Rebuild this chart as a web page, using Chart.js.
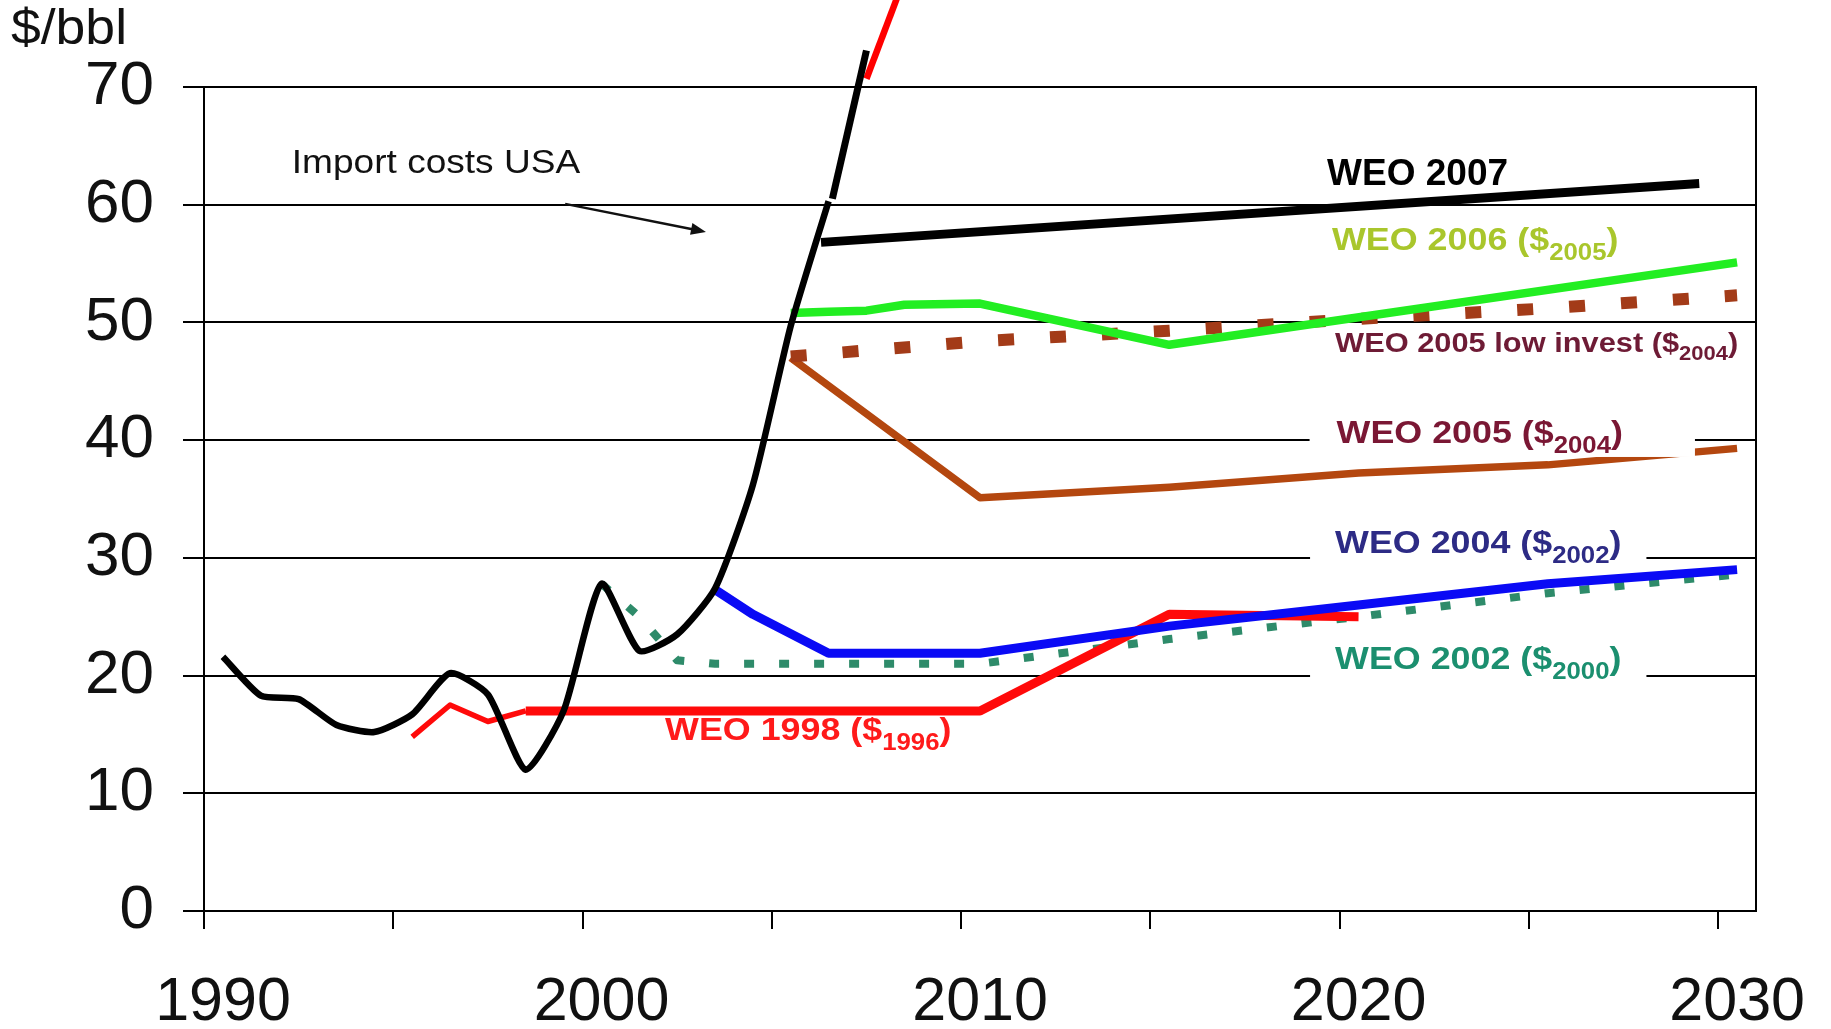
<!DOCTYPE html>
<html>
<head>
<meta charset="utf-8">
<script src="https://cdn.jsdelivr.net/npm/chart.js@4.4.1/dist/chart.umd.min.js"></script>
<style>
  html, body { margin: 0; padding: 0; background: #fff; }
  canvas { display: block; }
</style>
</head>
<body>
<canvas id="c" width="1831" height="1029"></canvas>
<script>
// ---------- data ----------
const yTicks = [0, 10, 20, 30, 40, 50, 60, 70];
const xTickLabels = ['1990', '2000', '2010', '2020', '2030'];
const xTickYears = [1990, 1995, 2000, 2005, 2010, 2015, 2020, 2025, 2030];

const importYears = [1990, 1991, 1992, 1993, 1994, 1995, 1996, 1997, 1998, 1999, 2000, 2001, 2002, 2003, 2004, 2005, 2006];
const importCosts = [21.6, 18.3, 18.0, 15.8, 15.2, 16.7, 20.2, 18.4, 12.0, 17.0, 27.8, 22.1, 23.5, 27.4, 36.2, 49.7, 60.3];

const import2007Years = [2006.1, 2007.0];
const import2007Costs = [60.5, 73.1];

const recentYears = [2007.0, 2008.0];
const recentCosts = [70.7, 79.2];

const weo2007Years = [2005.8, 2029.0];
const weo2007 = [56.8, 61.8];

const weo2006Years = [2005, 2006, 2007, 2008, 2010, 2015, 2030];
const weo2006 = [50.8, 50.9, 51.0, 51.5, 51.6, 48.1, 55.1];

const weo2005LowYears = [2005, 2010, 2015, 2020, 2025, 2030];
const weo2005Low = [47.1, 48.4, 49.3, 50.3, 51.2, 52.3];

const weo2005Years = [2005, 2010, 2015, 2020, 2025, 2030];
const weo2005 = [47.0, 35.1, 36.0, 37.2, 37.9, 39.3];

const weo2004Years = [2003, 2004, 2006, 2010, 2015, 2020, 2025, 2030];
const weo2004 = [27.3, 25.2, 21.9, 21.9, 24.2, 26.0, 27.8, 29.0];

const weo2002Years = [2000, 2001, 2002, 2003, 2010, 2015, 2020, 2025, 2030];
const weo2002 = [27.8, 25.0, 21.3, 21.0, 21.0, 23.1, 25.0, 27.0, 28.6];

const weo1998Years = [1995, 1996, 1997, 1998, 2010, 2015, 2020];
const weo1998 = [14.8, 17.5, 16.1, 17.0, 17.0, 25.2, 25.0];

// ---------- helpers ----------
const zip = (xs, ys) => xs.map((x, i) => ({ x: x, y: ys[i] }));
const FAM = '"Liberation Sans", Arial, Helvetica, sans-serif';

// text annotations (anchor in chart units)
const notes = [
  { text: 'Import costs USA', at: [1991.82, 62.7], size: 34, weight: 'normal', color: '#111', stretch: 1.09 },
  { text: 'WEO 2007', at: [2019.17, 61.68], size: 37, weight: 'bold', color: '#000', stretch: 1.0 },
  { text: 'WEO 2006 ($', sub: '2005', close: ')', at: [2019.3, 56.16], size: 32, weight: 'bold', color: '#a9c62c', stretch: 1.12 },
  { text: 'WEO 2005 low invest ($', sub: '2004', close: ')', at: [2019.38, 47.5], size: 28, weight: 'bold', color: '#6e1b35', stretch: 1.1 },
  { text: 'WEO 2005 ($', sub: '2004', close: ')', at: [2019.42, 39.76], size: 32, weight: 'bold', color: '#7a1734', stretch: 1.12, box: [27, 33, 72, 14] },
  { text: 'WEO 2004 ($', sub: '2002', close: ')', at: [2019.38, 30.4], size: 32, weight: 'bold', color: '#2d2b85', stretch: 1.12, box: [25, 33, 25, 15] },
  { text: 'WEO 2002 ($', sub: '2000', close: ')', at: [2019.38, 20.6], size: 32, weight: 'bold', color: '#1b8f6f', stretch: 1.12, box: [25, 33, 25, 15] },
  { text: 'WEO 1998 ($', sub: '1996', close: ')', at: [2001.68, 14.5], size: 32, weight: 'bold', color: '#ff1a1a', stretch: 1.12 }
];
const arrowFrom = [1999.04, 60.07];
const arrowTo = [2002.76, 57.69];

const bgPlugin = {
  id: 'bg',
  beforeDraw(chart) {
    const ctx = chart.ctx;
    ctx.save();
    ctx.fillStyle = '#fff';
    ctx.fillRect(0, 0, chart.width, chart.height);
    ctx.restore();
  },
  beforeDatasetsDraw(chart) {
    const { ctx, chartArea } = chart;
    ctx.save();
    ctx.strokeStyle = '#000';
    ctx.lineWidth = 2;
    ctx.beginPath();
    ctx.moveTo(chartArea.right, chartArea.top - 1);
    ctx.lineTo(chartArea.right, chartArea.bottom + 1);
    ctx.stroke();
    ctx.restore();
  },
  afterDatasetsDraw(chart) {
    const { ctx, scales } = chart;
    const xs = scales.x, ys = scales.y;
    // unit label
    ctx.save();
    ctx.fillStyle = '#111';
    ctx.font = '50px ' + FAM;
    ctx.textBaseline = 'alphabetic';
    ctx.translate(11, 44);
    ctx.scale(1.07, 1);
    ctx.fillText('$/bbl', 0, 0);
    ctx.restore();

    notes.forEach(n => {
      const px = xs.getPixelForValue(n.at[0]);
      const py = ys.getPixelForValue(n.at[1]);
      const mainFont = n.weight + ' ' + n.size + 'px ' + FAM;
      const subFont = n.weight + ' ' + Math.round(n.size * 0.72) + 'px ' + FAM;
      ctx.save();
      ctx.font = mainFont;
      const mw = ctx.measureText(n.text).width;
      let sw = 0, cw = 0;
      if (n.sub) {
        ctx.font = subFont; sw = ctx.measureText(n.sub).width;
        ctx.font = mainFont; cw = ctx.measureText(n.close).width;
      }
      const total = (mw + sw + cw) * n.stretch;
      if (n.box) {
        ctx.fillStyle = '#fff';
        ctx.fillRect(px - n.box[0], py - n.box[1], total + n.box[0] + n.box[2], n.box[1] + n.box[3]);
      }
      ctx.translate(px, py);
      ctx.scale(n.stretch, 1);
      ctx.fillStyle = n.color;
      ctx.textBaseline = 'alphabetic';
      ctx.font = mainFont;
      ctx.fillText(n.text, 0, 0);
      if (n.sub) {
        ctx.font = subFont;
        ctx.fillText(n.sub, mw, Math.round(n.size * 0.3));
        ctx.font = mainFont;
        ctx.fillText(n.close, mw + sw, 0);
      }
      ctx.restore();
    });

    // arrow
    const x0 = xs.getPixelForValue(arrowFrom[0]), y0 = ys.getPixelForValue(arrowFrom[1]);
    const x1 = xs.getPixelForValue(arrowTo[0]), y1 = ys.getPixelForValue(arrowTo[1]);
    const ang = Math.atan2(y1 - y0, x1 - x0);
    ctx.save();
    ctx.strokeStyle = '#111';
    ctx.fillStyle = '#111';
    ctx.lineWidth = 2.4;
    ctx.beginPath();
    ctx.moveTo(x0, y0);
    ctx.lineTo(x1 - 10 * Math.cos(ang), y1 - 10 * Math.sin(ang));
    ctx.stroke();
    ctx.beginPath();
    ctx.moveTo(x1, y1);
    ctx.lineTo(x1 - 15 * Math.cos(ang) + 6 * Math.sin(ang), y1 - 15 * Math.sin(ang) - 6 * Math.cos(ang));
    ctx.lineTo(x1 - 15 * Math.cos(ang) - 6 * Math.sin(ang), y1 - 15 * Math.sin(ang) + 6 * Math.cos(ang));
    ctx.closePath();
    ctx.fill();
    ctx.restore();
  }
};

const line = (label, data, color, width, extra) => Object.assign({
  label: label, data: data, borderColor: color, backgroundColor: color,
  borderWidth: width, pointRadius: 0, fill: false, tension: 0, clip: false,
  borderCapStyle: 'butt', borderJoinStyle: 'round'
}, extra || {});

const datasets = [
  line('Import costs USA', zip(importYears, importCosts), '#000', 6.5, { tension: 0.2 }),
  line('Import costs USA (2007)', zip(import2007Years, import2007Costs), '#000', 7),
  line('Import costs USA (recent)', zip(recentYears, recentCosts), '#ff0000', 6.5),
  line('WEO 2007', zip(weo2007Years, weo2007), '#000', 9),
  line('WEO 2004 ($2002)', zip(weo2004Years, weo2004), '#0a0af5', 9),
  line('WEO 1998 ($1996)', zip(weo1998Years, weo1998), '#ff0a0a', 9, {
    segment: { borderWidth: c => (c.p0.parsed.x >= 1998 ? 9 : 5.5) }
  }),
  line('WEO 2006 ($2005)', zip(weo2006Years, weo2006), '#22ee22', 8.5),
  line('WEO 2005 low invest ($2004)', zip(weo2005LowYears, weo2005Low), '#a33b18', 12, { borderDash: [16, 36] }),
  line('WEO 2005 ($2004)', zip(weo2005Years, weo2005), '#b4470f', 7.5),
  line('WEO 2002 ($2000)', zip(weo2002Years, weo2002), '#2e8b6a', 8, { borderDash: [10, 25] })
];

new Chart(document.getElementById('c'), {
  type: 'line',
  data: { datasets: datasets },
  plugins: [bgPlugin],
  options: {
    responsive: false,
    animation: false,
    devicePixelRatio: 1,
    layout: { padding: { top: 87, right: 75, left: 0, bottom: 0 } },
    plugins: { legend: { display: false }, tooltip: { enabled: false } },
    scales: {
      x: {
        type: 'linear',
        min: 1989.5,
        max: 2030.5,
        afterBuildTicks: s => { s.ticks = xTickYears.map(v => ({ value: v - 0.5 })); },
        afterFit: s => { s.height = 118; },
        grid: { drawOnChartArea: false, drawTicks: true, tickLength: 18, color: '#000', lineWidth: 2 },
        border: { display: true, color: '#000', width: 2 },
        ticks: {
          autoSkip: false, maxRotation: 0, minRotation: 0,
          labelOffset: 19, padding: 38,
          font: { size: 61, family: FAM }, color: '#111',
          callback: v => { const yr = String(Math.round(v + 0.5)); return xTickLabels.includes(yr) ? yr : ''; }
        }
      },
      y: {
        min: 0,
        max: 70,
        afterBuildTicks: s => { s.ticks = yTicks.map(v => ({ value: v })); },
        afterFit: s => { s.width = 204; },
        grid: { color: '#000', lineWidth: 2, tickLength: 21, drawTicks: true },
        border: { display: true, color: '#000', width: 2 },
        ticks: { padding: 29, font: { size: 62, family: FAM }, color: '#111' }
      }
    }
  }
});
</script>
</body>
</html>
